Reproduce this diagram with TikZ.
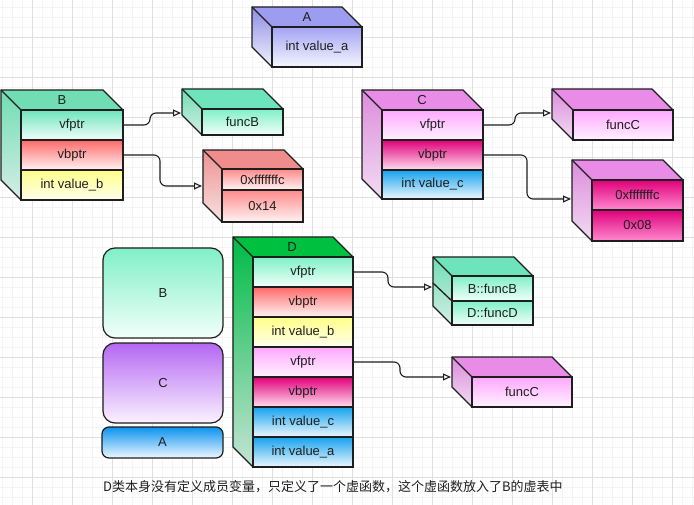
\documentclass[tikz,border=0pt]{standalone}
\usepackage{fontspec}
\setmainfont{Liberation Sans}
\newfontfamily\cjk{Noto Sans CJK SC}
\usetikzlibrary{arrows.meta}

\definecolor{ink}{HTML}{1E1E1E}
\definecolor{gridmin}{HTML}{F4F4F4}
\definecolor{gridmaj}{HTML}{E0E0E0}
% A
\definecolor{Atop}{HTML}{9C9CF0}
\definecolor{Aside}{HTML}{8E8EE6}
\definecolor{Aface}{HTML}{A4A4F4}
% teal
\definecolor{teal1}{HTML}{6EE4BC}
\definecolor{teal2}{HTML}{80F0C8}
\definecolor{tealw}{HTML}{F2FFFA}
\definecolor{tealside}{HTML}{70DDB4}
\definecolor{tealsideb}{HTML}{D4EEE6}
% red
\definecolor{red1}{HTML}{FF6A6A}
\definecolor{redw}{HTML}{FFF4F4}
\definecolor{redtop}{HTML}{F08C8C}
\definecolor{redside}{HTML}{EE9090}
\definecolor{redsideb}{HTML}{F6E2E2}
\definecolor{redrow}{HTML}{FF8A8A}
% yellow
\definecolor{yel1}{HTML}{FFFF88}
\definecolor{yelw}{HTML}{FFFFEE}
% violet / pink
\definecolor{viotop}{HTML}{E88CE8}
\definecolor{vioside}{HTML}{DC8CDC}
\definecolor{viosideb}{HTML}{F2DCF2}
\definecolor{pink1}{HTML}{FFA8FF}
\definecolor{pinkw}{HTML}{FFF2FF}
\definecolor{mag1}{HTML}{E0007A}
\definecolor{magw}{HTML}{FFDDEE}
\definecolor{magrowb}{HTML}{FF8AD0}
% blue
\definecolor{blue1}{HTML}{16A2EE}
\definecolor{bluew}{HTML}{EEF8FF}
% green (D)
\definecolor{dtop}{HTML}{00C040}
\definecolor{dside}{HTML}{00BA46}
\definecolor{dsideb}{HTML}{C4E4D4}
% purple (C rounded)
\definecolor{purp1}{HTML}{B468F2}
\definecolor{purpw}{HTML}{FAF2FF}
\definecolor{ablue}{HTML}{0A92F0}

\tikzset{
  edge/.style={draw=ink, line width=1.3pt, line join=round, line cap=round},
  cell/.style={draw=ink, line width=1.2pt, inner sep=0pt, outer sep=0pt,
    font=\fontsize{13}{15}\selectfont, text=ink},
  toplabel/.style={font=\fontsize{13}{15}\selectfont, text=ink, inner sep=0pt},
  conn/.style={draw=ink, line width=1.1pt, rounded corners=6pt,
    -{Triangle[open, length=8pt, width=7pt]}},
  blob/.style={draw=ink, line width=1.2pt, font=\fontsize{13}{15}\selectfont, text=ink},
  minorgrid/.style={draw=gridmin, line width=0.6pt},
  majorgrid/.style={draw=gridmaj, line width=0.8pt},
}

% #1 x0, #2 y0, #3 x1, #4 y1, #5 d, #6 top fill, #7 side top, #8 side bottom
\newcommand{\cubefaces}[8]{%
  \fill[#6] (#1,#2) -- ({#3-#5},#2) -- (#3,{#2+#5}) -- ({#1+#5},{#2+#5}) -- cycle;
  \shade[top color=#7,bottom color=#8] (#1,#2) -- ({#1+#5},{#2+#5}) -- ({#1+#5},#4) -- (#1,{#4-#5}) -- cycle;
}
\newcommand{\cubeedges}[5]{%
  \draw[edge] (#1,#2) -- ({#3-#5},#2) -- (#3,{#2+#5}) -- (#3,#4) -- ({#1+#5},#4) -- (#1,{#4-#5}) -- cycle;
  \draw[edge] (#1,#2) -- ({#1+#5},{#2+#5}) -- (#3,{#2+#5});
  \draw[edge] ({#1+#5},{#2+#5}) -- ({#1+#5},#4);
}
% #1 name, #2 x1, #3 y1, #4 x2, #5 y2, #6 top colour, #7 bottom colour, #8 text
\newcommand{\cellbox}[8]{%
  \node[cell, top color=#6, bottom color=#7, minimum width={(#4-#2)*1pt},
    minimum height={(#5-#3)*1pt}] (#1) at ({(#2+#4)/2},{(#3+#5)/2}) {#8};
}

\begin{document}
\begin{tikzpicture}[x=1pt,y=-1pt]
\useasboundingbox (0,0) rectangle (694,505);
\fill[white] (0,0) rectangle (694,505);

% grid
\foreach \i in {0,...,69} \draw[minorgrid] ({2+10*\i},0) -- ({2+10*\i},505);
\foreach \j in {0,...,49} \draw[minorgrid] (0,{7+10*\j}) -- (694,{7+10*\j});
\foreach \i in {0,...,16} \draw[majorgrid] ({32+40*\i},0) -- ({32+40*\i},505);
\foreach \j in {0,...,11} \draw[majorgrid] (0,{37+40*\j}) -- (694,{37+40*\j});

% ---------- A ----------
\cubefaces{252}{7}{362}{67}{20}{Atop}{Aside}{Aface!15}
\cellbox{Aval}{272}{27}{362}{67}{Aface}{Aface!10}{int value\_a}
\cubeedges{252}{7}{362}{67}{20}
\node[toplabel] (Alab) at (307,17) {A};

% ---------- B ----------
\cubefaces{1}{90}{123}{200}{20}{tealside}{tealside}{tealsideb}
\cellbox{Bvf}{21}{110}{123}{140}{teal1}{tealw}{vfptr}
\cellbox{Bvb}{21}{140}{123}{170}{red1}{redw}{vbptr}
\cellbox{Bvalb}{21}{170}{123}{200}{yel1}{yelw}{int value\_b}
\cubeedges{1}{90}{123}{200}{20}
\node[toplabel] (Blab) at (62,100) {B};

% funcB
\cubefaces{182}{89}{283}{135}{20}{teal1}{tealside}{tealsideb}
\cellbox{funcB}{202}{109}{283}{135}{teal2}{tealw}{funcB}
\cubeedges{182}{89}{283}{135}{20}

% B vbtable
\cubefaces{203}{150}{303}{222}{19}{redtop}{redside}{redsideb}
\cellbox{Btab1}{222}{169}{303}{190}{redrow}{redw}{0xfffffffc}
\cellbox{Btab2}{222}{190}{303}{222}{redrow}{redw}{0x14}
\cubeedges{203}{150}{303}{222}{19}

% ---------- C ----------
\cubefaces{362}{90}{483}{199}{20}{viotop}{vioside}{viosideb}
\cellbox{Cvf}{382}{110}{483}{140}{pink1}{pinkw}{vfptr}
\cellbox{Cvb}{382}{140}{483}{170}{mag1}{magw}{vbptr}
\cellbox{Cvalc}{382}{170}{483}{199}{blue1}{bluew}{int value\_c}
\cubeedges{362}{90}{483}{199}{20}
\node[toplabel] (Clab) at (422,100) {C};

% funcC (top)
\cubefaces{552}{89}{673}{140}{21}{viotop}{vioside}{viosideb}
\cellbox{funcCa}{573}{110}{673}{140}{pink1}{pinkw}{funcC}
\cubeedges{552}{89}{673}{140}{21}

% C vbtable
\cubefaces{572}{160}{683}{241}{20}{viotop}{vioside}{viosideb}
\cellbox{Ctab1}{592}{180}{683}{210}{mag1}{magrowb}{0xfffffffc}
\cellbox{Ctab2}{592}{210}{683}{241}{mag1}{magrowb}{0x08}
\cubeedges{572}{160}{683}{241}{20}

% ---------- left rounded blocks ----------
\node[blob, rounded corners=12pt, top color=teal2, bottom color=tealw,
  minimum width=120pt, minimum height=90pt] (BB) at (163,293) {B};
\node[blob, rounded corners=12pt, top color=purp1, bottom color=purpw,
  minimum width=120pt, minimum height=80pt] (CC) at (163,383) {C};
\node[blob, rounded corners=7pt, top color=ablue, bottom color=bluew,
  minimum width=121pt, minimum height=31pt] (AA) at (162.5,442.5) {A};

% ---------- D ----------
\cubefaces{233}{237}{353}{467}{20}{dtop}{dside}{dsideb}
\cellbox{Dvf1}{253}{257}{353}{287}{teal2}{tealw}{vfptr}
\cellbox{Dvb1}{253}{287}{353}{317}{red1}{redw}{vbptr}
\cellbox{Dvalb}{253}{317}{353}{347}{yel1}{yelw}{int value\_b}
\cellbox{Dvf2}{253}{347}{353}{377}{pink1}{pinkw}{vfptr}
\cellbox{Dvb2}{253}{377}{353}{407}{mag1}{magw}{vbptr}
\cellbox{Dvalc}{253}{407}{353}{437}{blue1}{bluew}{int value\_c}
\cellbox{Dvala}{253}{437}{353}{467}{blue1}{bluew}{int value\_a}
\cubeedges{233}{237}{353}{467}{20}
\node[toplabel] (Dlab) at (292,247) {D};

% D vtable
\cubefaces{433}{257}{533}{325}{19}{teal1}{tealside}{tealsideb}
\cellbox{Dtab1}{452}{276}{533}{301}{teal2}{tealw}{B::funcB}
\cellbox{Dtab2}{452}{301}{533}{325}{teal2}{tealw}{D::funcD}
\cubeedges{433}{257}{533}{325}{19}
\draw[edge] (433,283) -- (452,301);

% funcC (lower)
\cubefaces{452}{357}{572}{407}{20}{viotop}{vioside}{viosideb}
\cellbox{funcCb}{472}{377}{572}{407}{pink1}{pinkw}{funcC}
\cubeedges{452}{357}{572}{407}{20}

% ---------- connectors ----------
\coordinate (funcBin) at (181,113);
\coordinate (BtabIn) at (202,186);
\coordinate (funcCain) at (551,113);
\coordinate (CtabIn) at (571,199);
\coordinate (DtabIn) at (432,287);
\coordinate (funcCbin) at (451,377);

\draw[conn] (Bvf.east) -- ++(27,0) |- (funcBin);
\draw[conn] (Bvb.east) -- ++(37,0) |- (BtabIn);
\draw[conn] (Cvf.east) -- ++(32,0) |- (funcCain);
\draw[conn] (Cvb.east) -- ++(44,0) |- (CtabIn);
\draw[conn] (Dvf1.east) -- ++(35,0) |- (DtabIn);
\draw[conn] (Dvf2.east) -- ++(47,0) |- (funcCbin);

% caption
\node[inner sep=0pt, font=\cjk\fontsize{13}{15}\selectfont, text=ink, anchor=west] (cap) at (103,487)
  {D类本身没有定义成员变量，只定义了一个虚函数，这个虚函数放入了B的虚表中};
\end{tikzpicture}
\end{document}
